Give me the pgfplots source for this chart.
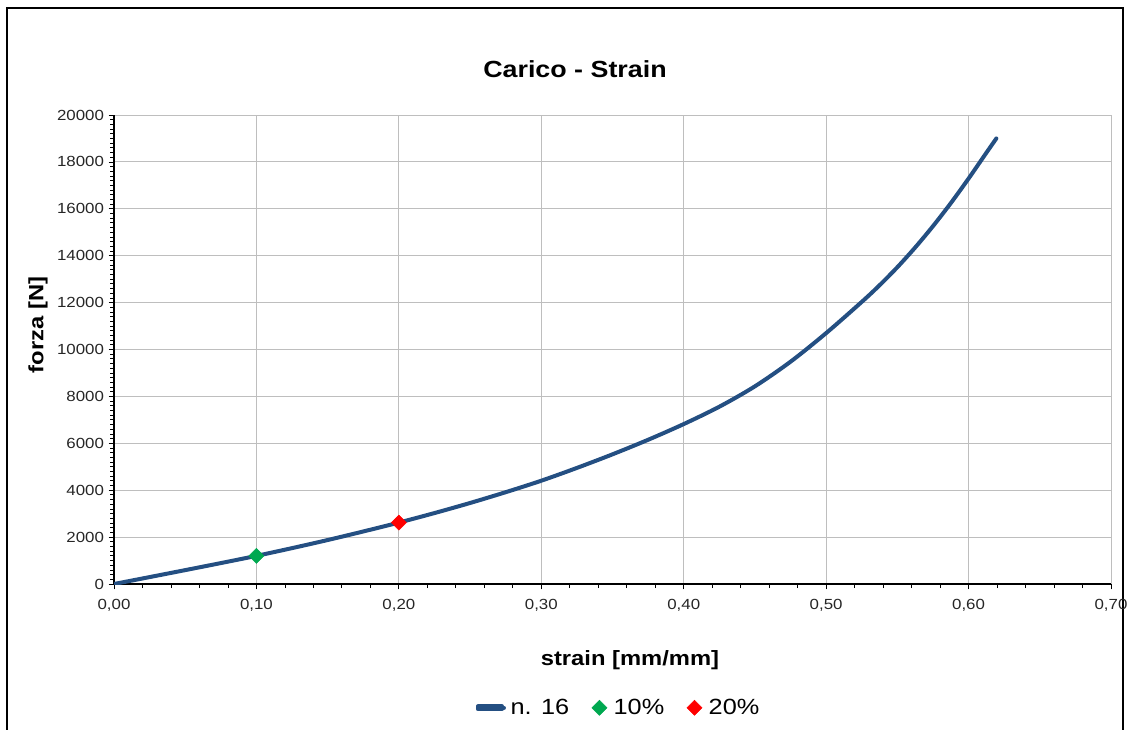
\documentclass[border=0pt]{standalone}
\usepackage{pgfplots}
\pgfplotsset{compat=1.18}
\usepackage{fontspec}
\setmainfont[FakeStretch=1.15]{Liberation Sans}

\definecolor{curva}{RGB}{36,79,130}
\definecolor{verde}{RGB}{0,168,80}
\definecolor{rosso}{RGB}{255,0,0}
\definecolor{griglia}{RGB}{190,190,190}

% segmento corto per la legenda della curva (tocca il testo)
\pgfplotsset{lineleg/.style={legend image code/.code={%
    \path[use as bounding box] (0pt,-1pt) rectangle (18pt,1pt);
    \draw[##1] (0pt,0pt) -- (19.5pt,0pt);}}}

\begin{document}
\begin{tikzpicture}
\useasboundingbox (0pt,0pt) rectangle (850.5pt,546.75pt);
% cornice del grafico
\draw[black, line width=0.9pt] (5.25pt,-10pt) -- (5.25pt,540.75pt) -- (842.25pt,540.75pt) -- (842.25pt,-10pt);

\begin{axis}[
    at={(85.5pt,108.75pt)}, anchor=south west,
    scale only axis,
    width=747.75pt, height=351.75pt,
    xmin=0, xmax=0.7, ymin=0, ymax=20000,
    xtick={0,0.1,...,0.71}, ytick={0,2000,...,20000},
    minor x tick num=4, minor y tick num=9,
    axis lines=left,
    axis line style={-, black, line width=0.8pt},
    tick align=outside,
    tick style={black, line width=0.6pt},
    major tick length=4pt, minor tick length=3pt,
    grid=major,
    major grid style={griglia, line width=0.7pt},
    scaled ticks=false,
    xticklabel style={/pgf/number format/.cd, fixed, fixed zerofill, precision=2, use comma},
    yticklabel style={/pgf/number format/1000 sep={}},
    /pgf/number format/assume math mode=true,
    ticklabel style={font=\fontsize{11}{13}\selectfont, text=black!85},
    xticklabel shift=4pt,
    legend columns=3,
    legend style={at={(0.5065,-0.264)}, anchor=center, draw=none, fill=none,
        font=\fontsize{16.5}{18}\selectfont,
        /tikz/every odd column/.append style={column sep=3pt},
        /tikz/every even column/.append style={column sep=15pt}},
]
\addplot[curva, line width=3pt, line cap=round, line join=round, smooth, lineleg] coordinates {
    (0.000,0) (0.025,295) (0.050,592) (0.075,892) (0.100,1200) (0.125,1530)
    (0.150,1875) (0.175,2240) (0.200,2620) (0.225,3025) (0.250,3455)
    (0.275,3915) (0.300,4405) (0.325,4950) (0.350,5530) (0.375,6150)
    (0.400,6820) (0.425,7560) (0.450,8430) (0.475,9480) (0.500,10700)
    (0.525,12030) (0.5375,12740) (0.550,13510) (0.5625,14350) (0.575,15260)
    (0.5875,16240) (0.600,17290) (0.6125,18390) (0.6195,19000)
};
\addlegendentry{n. 16}
\addplot[only marks, mark=square*, mark size=4pt, mark options={rotate=45, draw=verde, fill=verde}]
    coordinates {(0.10,1200)};
\addlegendentry{10\%}
\addplot[only marks, mark=square*, mark size=4pt, mark options={rotate=45, draw=rosso, fill=rosso}]
    coordinates {(0.20,2620)};
\addlegendentry{20\%}
\end{axis}

\node[font=\bfseries\fontsize{17.5}{20}\selectfont] at (431.25pt,495pt) {Carico - Strain};
\node[font=\bfseries\fontsize{15.5}{18}\selectfont] at (472.5pt,52pt) {strain [mm/mm]};
\node[font=\bfseries\fontsize{15.5}{18}\selectfont, rotate=90] at (28.5pt,303pt) {forza [N]};
\end{tikzpicture}
\end{document}
